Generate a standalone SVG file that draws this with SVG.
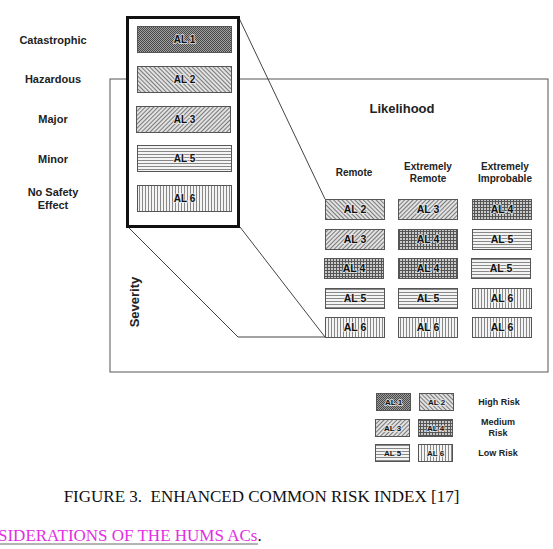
<svg xmlns="http://www.w3.org/2000/svg" width="553" height="549" viewBox="0 0 553 549">
  <defs>
    <!-- AL 1: dark stipple -->
    <pattern id="pAL1" patternUnits="userSpaceOnUse" width="2" height="2">
      <rect width="2" height="2" fill="#a0a0a0"/>
      <rect width="1" height="1" fill="#484848"/>
      <rect x="1" y="1" width="1" height="1" fill="#484848"/>
    </pattern>
    <!-- AL 2: back diagonal hatch -->
    <pattern id="pAL2" patternUnits="userSpaceOnUse" width="3" height="3" patternTransform="rotate(-45)">
      <rect width="3" height="3" fill="#e6e6e6"/>
      <line x1="1.5" y1="0" x2="1.5" y2="3" stroke="#7a7a7a" stroke-width="1.1"/>
    </pattern>
    <!-- AL 3: forward diagonal hatch -->
    <pattern id="pAL3" patternUnits="userSpaceOnUse" width="3" height="3" patternTransform="rotate(45)">
      <rect width="3" height="3" fill="#e6e6e6"/>
      <line x1="1.5" y1="0" x2="1.5" y2="3" stroke="#7a7a7a" stroke-width="1.1"/>
    </pattern>
    <!-- AL 4: square grid -->
    <pattern id="pAL4" patternUnits="userSpaceOnUse" width="3" height="3">
      <rect width="3" height="3" fill="#cacaca"/>
      <line x1="0.5" y1="0" x2="0.5" y2="3" stroke="#555" stroke-width="1"/>
      <line x1="0" y1="0.5" x2="3" y2="0.5" stroke="#555" stroke-width="1"/>
    </pattern>
    <!-- AL 5: horizontal rule -->
    <pattern id="pAL5" patternUnits="userSpaceOnUse" width="3" height="3">
      <rect width="3" height="3" fill="#f4f4f4"/>
      <line x1="0" y1="1.5" x2="3" y2="1.5" stroke="#888" stroke-width="1"/>
    </pattern>
    <!-- AL 6: vertical rule -->
    <pattern id="pAL6" patternUnits="userSpaceOnUse" width="3" height="3">
      <rect width="3" height="3" fill="#f4f4f4"/>
      <line x1="1.5" y1="0" x2="1.5" y2="3" stroke="#888" stroke-width="1"/>
    </pattern>
  </defs>
  <style>
    .lbl { font-family: "Liberation Sans", Arial, sans-serif; font-weight: bold; fill: #222; text-anchor: middle; }
    .on { fill: #111; stroke: rgba(235,235,235,0.75); stroke-width: 2; paint-order: stroke; stroke-linejoin: round; }
    .cell { stroke: #555; stroke-width: 1; }
    .al1 { fill: url(#pAL1); }
    .al2 { fill: url(#pAL2); }
    .al3 { fill: url(#pAL3); }
    .al4 { fill: url(#pAL4); }
    .al5 { fill: url(#pAL5); }
    .al6 { fill: url(#pAL6); }
    .conn { fill: none; stroke: #444; stroke-width: 1; }
    .t10 { font-size: 10px; }
    .t11 { font-size: 11px; }
    .t105 { font-size: 10.5px; }
    .t8 { font-size: 8px; }
    .t9 { font-size: 9px; }
    .t13 { font-size: 13px; }
    .cap { font-family: "Liberation Serif", "Times New Roman", serif; font-size: 17px; fill: #111; }
  </style>

  <rect width="553" height="549" fill="#fff"/>

  <!-- matrix frame -->
  <g id="frame">
    <rect x="110" y="79" width="438" height="293" fill="#fff" stroke="#555" stroke-width="1"/>
  </g>

  <!-- connectors from the severity column to the matrix -->
  <g id="connectors">
    <line class="conn" x1="239" y1="18" x2="325" y2="199"/>
    <polyline class="conn" points="128,227 238,337 325,337"/>
    <line class="conn" x1="240" y1="227" x2="325" y2="337"/>
  </g>

  <!-- severity categories -->
  <g id="severity-labels">
    <text class="lbl t11" x="53" y="44">Catastrophic</text>
    <text class="lbl t11" x="53" y="83">Hazardous</text>
    <text class="lbl t11" x="53" y="123">Major</text>
    <text class="lbl t11" x="53" y="163">Minor</text>
    <text class="lbl t11" x="53" y="196">No Safety</text>
    <text class="lbl t11" x="53" y="209">Effect</text>
  </g>

  <!-- severity column box -->
  <g id="severity-column">
    <rect x="127.5" y="17.5" width="111" height="209" fill="#fff" stroke="#111" stroke-width="3"/>
    <g id="sev-al1"><rect class="cell al1" x="137.5" y="26.5" width="94" height="26"/><text class="lbl on t10" x="184.5" y="43">AL 1</text></g>
    <g id="sev-al2"><rect class="cell al2" x="137.5" y="66.5" width="94" height="26"/><text class="lbl on t10" x="184.5" y="83">AL 2</text></g>
    <g id="sev-al3"><rect class="cell al3" x="136.5" y="106.5" width="94" height="26"/><text class="lbl on t10" x="184.5" y="123">AL 3</text></g>
    <g id="sev-al5"><rect class="cell al5" x="137.5" y="145.5" width="94" height="26"/><text class="lbl on t10" x="184.5" y="162">AL 5</text></g>
    <g id="sev-al6"><rect class="cell al6" x="137.5" y="185.5" width="94" height="26"/><text class="lbl on t10" x="184.5" y="202">AL 6</text></g>
  </g>

  <!-- axis titles -->
  <g id="axis-titles">
    <text class="lbl t13" x="402" y="113">Likelihood</text>
    <text class="lbl t13" transform="translate(139 302) rotate(-90)" x="0" y="0">Severity</text>
  </g>

  <!-- likelihood headers -->
  <g id="likelihood-headers">
    <text class="lbl t10" x="354" y="176">Remote</text>
    <text class="lbl t10" x="428" y="170">Extremely</text>
    <text class="lbl t10" x="428" y="182">Remote</text>
    <text class="lbl t10" x="505" y="170">Extremely</text>
    <text class="lbl t10" x="505" y="182">Improbable</text>
  </g>

  <!-- risk matrix cells -->
  <g id="matrix">
    <g id="r1c1"><rect class="cell al2" x="325.5" y="199.5" width="59" height="20"/><text class="lbl on t105" x="355" y="213">AL 2</text></g>
    <g id="r1c2"><rect class="cell al3" x="398.5" y="199.5" width="59" height="20"/><text class="lbl on t105" x="428" y="213">AL 3</text></g>
    <g id="r1c3"><rect class="cell al4" x="472.5" y="199.5" width="59" height="20"/><text class="lbl on t105" x="502" y="213">AL 4</text></g>

    <g id="r2c1"><rect class="cell al3" x="325.5" y="229.5" width="59" height="20"/><text class="lbl on t105" x="355" y="243">AL 3</text></g>
    <g id="r2c2"><rect class="cell al4" x="398.5" y="229.5" width="59" height="20"/><text class="lbl on t105" x="428" y="243">AL 4</text></g>
    <g id="r2c3"><rect class="cell al5" x="472.5" y="229.5" width="59" height="20"/><text class="lbl on t105" x="502" y="243">AL 5</text></g>

    <g id="r3c1"><rect class="cell al4" x="324.5" y="258.5" width="59" height="20"/><text class="lbl on t105" x="354" y="272">AL 4</text></g>
    <g id="r3c2"><rect class="cell al4" x="398.5" y="258.5" width="59" height="20"/><text class="lbl on t105" x="428" y="272">AL 4</text></g>
    <g id="r3c3"><rect class="cell al5" x="471.5" y="258.5" width="59" height="20"/><text class="lbl on t105" x="501" y="272">AL 5</text></g>

    <g id="r4c1"><rect class="cell al5" x="325.5" y="288.5" width="59" height="20"/><text class="lbl on t105" x="355" y="302">AL 5</text></g>
    <g id="r4c2"><rect class="cell al5" x="398.5" y="288.5" width="59" height="20"/><text class="lbl on t105" x="428" y="302">AL 5</text></g>
    <g id="r4c3"><rect class="cell al6" x="472.5" y="288.5" width="59" height="20"/><text class="lbl on t105" x="502" y="302">AL 6</text></g>

    <g id="r5c1"><rect class="cell al6" x="325.5" y="317.5" width="59" height="20"/><text class="lbl on t105" x="355" y="331">AL 6</text></g>
    <g id="r5c2"><rect class="cell al6" x="398.5" y="317.5" width="59" height="20"/><text class="lbl on t105" x="428" y="331">AL 6</text></g>
    <g id="r5c3"><rect class="cell al6" x="472.5" y="317.5" width="59" height="20"/><text class="lbl on t105" x="502" y="331">AL 6</text></g>
  </g>

  <!-- legend -->
  <g id="legend">
    <g id="leg-al1"><rect class="cell al1" x="376.5" y="393.5" width="34" height="17"/><text class="lbl on t8" x="393.5" y="405">AL 1</text></g>
    <g id="leg-al2"><rect class="cell al2" x="419.5" y="393.5" width="34" height="17"/><text class="lbl on t8" x="436.5" y="405">AL 2</text></g>
    <g id="leg-al3"><rect class="cell al3" x="375.5" y="419.5" width="34" height="17"/><text class="lbl on t8" x="392.5" y="431">AL 3</text></g>
    <g id="leg-al4"><rect class="cell al4" x="418.5" y="419.5" width="34" height="17"/><text class="lbl on t8" x="435.5" y="431">AL 4</text></g>
    <g id="leg-al5"><rect class="cell al5" x="375.5" y="444.5" width="34" height="17"/><text class="lbl on t8" x="392.5" y="456">AL 5</text></g>
    <g id="leg-al6"><rect class="cell al6" x="418.5" y="444.5" width="34" height="17"/><text class="lbl on t8" x="435.5" y="456">AL 6</text></g>
    <text class="lbl t9" x="499" y="405">High Risk</text>
    <text class="lbl t9" x="498" y="425">Medium</text>
    <text class="lbl t9" x="498" y="436">Risk</text>
    <text class="lbl t9" x="498" y="456">Low Risk</text>
  </g>

  <!-- caption and running text -->
  <g id="caption">
    <text class="cap" x="261.5" y="502" text-anchor="middle" xml:space="preserve">FIGURE 3.  ENHANCED COMMON RISK INDEX [17]</text>
    <text class="cap" x="-2" y="541"><tspan fill="#e22ee2">SIDERATIONS OF THE HUMS ACs</tspan>.</text>
    <line x1="0" y1="544" x2="258" y2="544" stroke="#6a6a6a" stroke-width="1.2"/>
  </g>
</svg>
